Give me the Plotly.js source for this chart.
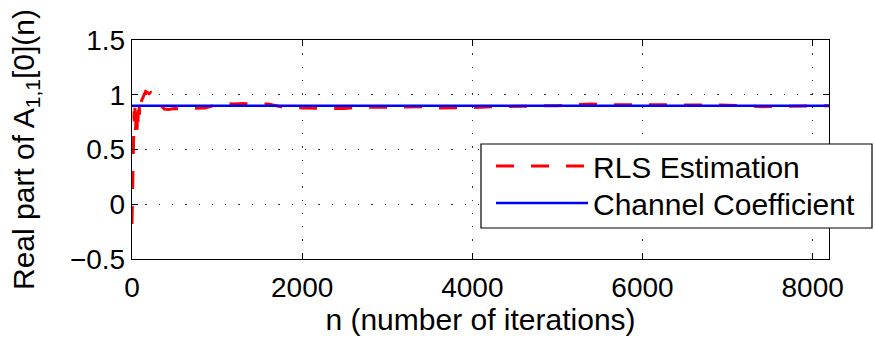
<!DOCTYPE html>
<html>
<head>
<meta charset="utf-8">
<script src="https://cdn.plot.ly/plotly-3.0.1.min.js"></script>
<style>html,body{margin:0;padding:0;background:#fff;}#chart{width:875px;height:341px;}</style>
</head>
<body>
<div id="chart"></div>
<script>
// RLS estimate of the real part of A_{1,1}[0](n)
const rlsN = [0, 3, 6, 9, 12, 15, 18, 21, 25, 30, 35, 40, 45, 50, 55, 60, 65, 70, 75, 80, 85, 90, 95, 105, 120, 140, 160, 180, 200, 220, 240, 270, 300, 340, 380, 430, 500, 560, 650, 750, 860, 950, 1050, 1120, 1200, 1300, 1450, 1600, 1750, 1850, 2000, 2150, 2300, 2500, 2650, 2800, 2950, 3100, 3300, 3450, 3600, 3750, 3900, 4100, 4250, 4450, 4600, 4800, 5000, 5200, 5400, 5600, 5900, 6100, 6300, 6500, 6800, 7000, 7200, 7400, 7600, 7800, 8000, 8192];
const rlsVal = [-0.18, 0.0, 0.15, 0.3, 0.45, 0.57, 0.7, 0.64, 0.85, 0.7, 0.88, 0.66, 0.82, 0.72, 0.89, 0.68, 0.85, 0.75, 0.88, 0.78, 0.9, 0.8, 0.88, 0.93, 0.96, 0.99, 1.03, 1.02, 1.01, 1.02, 0.99, 0.95, 0.92, 0.9, 0.87, 0.865, 0.875, 0.87, 0.875, 0.88, 0.88, 0.9, 0.915, 0.92, 0.915, 0.92, 0.915, 0.915, 0.89, 0.89, 0.88, 0.875, 0.875, 0.875, 0.885, 0.885, 0.885, 0.885, 0.885, 0.89, 0.88, 0.88, 0.885, 0.885, 0.89, 0.89, 0.895, 0.9, 0.9, 0.91, 0.915, 0.91, 0.91, 0.91, 0.905, 0.91, 0.905, 0.905, 0.9, 0.89, 0.895, 0.895, 0.9, 0.9];
// True channel coefficient
const chanN = [0, 8192];
const chanVal = [0.9, 0.9];
// Axis ticks
const xTicks = [0, 2000, 4000, 6000, 8000];
const xTickText = ['0', '2000', '4000', '6000', '8000'];
const yTicks = [-0.5, 0, 0.5, 1, 1.5];
const yTickText = ['\u22120.5', '0', '0.5', '1', '1.5'];
const seriesNames = ['RLS Estimation', 'Channel Coefficient'];

const FONT = 'Liberation Sans, Arial, Helvetica, sans-serif';

const traces = [
  {x: rlsN, y: rlsVal, type: 'scatter', mode: 'lines', name: seriesNames[0], legend: 'legend',
   line: {color: '#ff0000', width: 3, dash: '18px,17px'}},
  {x: chanN, y: chanVal, type: 'scatter', mode: 'lines', name: seriesNames[1], legend: 'legend2',
   line: {color: '#0000ff', width: 2.5}}
];

const axisCommon = {
  showline: true, linecolor: '#000', linewidth: 1.2, mirror: 'ticks',
  ticks: 'inside', ticklen: 6, tickcolor: '#000', tickwidth: 1,
  showgrid: true, gridcolor: '#333', gridwidth: 1.3, griddash: '1.3px,12px',
  zeroline: false, tickfont: {family: FONT, size: 28, color: '#000'}
};

const legendCommon = {
  xanchor: 'left', yanchor: 'middle', xref: 'paper', yref: 'paper',
  bgcolor: 'rgba(0,0,0,0)', borderwidth: 0,
  font: {family: FONT, size: 30, color: '#000'},
  itemwidth: 92
};

const layout = {
  width: 875, height: 341,
  margin: {l: 132, r: 46, t: 40, b: 82, autoexpand: false},
  paper_bgcolor: '#fff', plot_bgcolor: '#fff',
  font: {family: FONT, color: '#000'},
  showlegend: true,
  xaxis: Object.assign({}, axisCommon, {
    range: [0, 8192], tickvals: xTicks, ticktext: xTickText, ticklabelstandoff: 3,
    title: {text: 'n (number of iterations)', font: {family: FONT, size: 30, color: '#000'}, standoff: 6}
  }),
  yaxis: Object.assign({}, axisCommon, {
    range: [-0.5, 1.5], tickvals: yTicks, ticktext: yTickText,
    title: {text: 'Real part of A<sub>1,1</sub>[0](n)', font: {family: FONT, size: 30, color: '#000'}, standoff: 26}
  }),
  shapes: [{
    type: 'rect', xref: 'paper', yref: 'paper', layer: 'above',
    x0: (481 - 132) / 697, x1: (872 - 132) / 697,
    y0: (259 - 228) / 219, y1: (259 - 144) / 219,
    fillcolor: '#fff', line: {color: '#000', width: 1.2}
  }],
  legend: Object.assign({}, legendCommon, {x: (491 - 132) / 697, y: (259 - 166) / 219}),
  legend2: Object.assign({}, legendCommon, {x: (491 - 132) / 697, y: (259 - 203) / 219})
};

Plotly.newPlot('chart', traces, layout, {staticPlot: true, displayModeBar: false});
</script>
</body>
</html>
